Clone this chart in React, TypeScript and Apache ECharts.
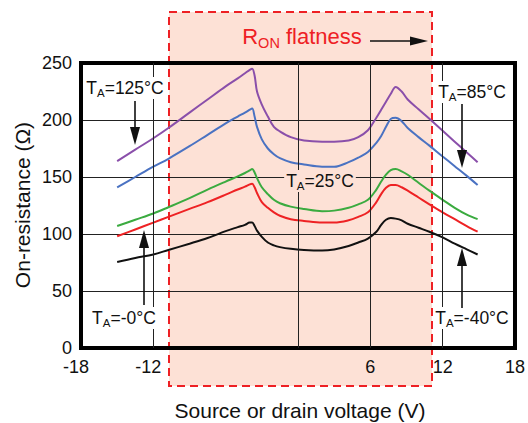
import React, { useEffect, useRef } from 'react';
import * as echarts from 'echarts';

// Source/drain voltage sample points (V)
const X = [-15, -13.5, -12, -10.75, -9, -7.5, -6, -5, -4.4, -4.0, -3.8, -3.6, -3.4, -3.0, -2.5, -2.0, -1.5, -0.6, 0.5, 2, 3, 4.2, 5, 5.8, 6.5, 6.9, 7.3, 7.7, 8.1, 8.6, 9.1, 10, 10.9, 12, 13, 14, 14.9];

// On-resistance (Ohm) per temperature
const R125 = [164, 174, 184, 193, 206.5, 218, 229.5, 236.5, 241, 244, 245, 239, 225, 213.5, 203, 194, 190, 185, 182, 181, 181, 182, 185, 191, 202, 209, 216, 223, 229, 225, 218, 209.5, 201, 190.5, 181, 171.5, 163];
const R85 = [141, 150, 159, 166, 177, 187, 197, 203, 206.5, 209, 210, 203, 194, 183, 175, 170, 166.5, 163, 161, 159, 159, 163, 167, 172, 180, 186, 194, 201, 202, 199, 193, 185, 177.5, 168, 159.5, 151, 143];
const R25 = [107, 112.5, 118, 123.5, 131.5, 139, 146, 150.5, 153.5, 155.8, 157, 154, 149, 141, 135, 130, 127, 124, 122, 120, 120.5, 123, 126, 130, 139, 146, 152, 156, 157, 155, 152, 145, 138, 130, 123, 117, 113];
const R0 = [98, 104, 110, 115, 122, 128, 134.5, 139, 141.5, 143.5, 144, 141, 136, 128, 123, 119, 116, 113, 111.5, 110, 110, 112, 115, 119, 128, 135, 140.5, 143, 143, 141, 138, 132, 126, 119, 113, 107, 102];
const RM40 = [75.5, 79, 82, 86, 91.5, 96.5, 102.5, 106, 108, 110, 110, 107, 103, 97.5, 92.5, 90, 88.5, 87, 86, 85.5, 86.5, 89.5, 92.5, 96, 102, 108, 112.5, 114, 113.5, 112, 109, 105.5, 102, 97, 91.5, 86.5, 82];

const xShownLabels = [-18, -12, 6, 12, 18];
const xGridLines = [-12, 0, 6, 12];

const FONT = '"Liberation Sans", Arial, Helvetica, sans-serif';

const pair = (ys: number[]) => X.map((x, i) => [x, ys[i]]);

function taLabel(temp: string, x: number, y: number, bg: string) {
  return {
    type: 'text',
    z: 10,
    x,
    y,
    style: {
      text: `{m|T}{s|A}{m|=${temp}°C}`,
      align: 'center',
      verticalAlign: 'middle',
      backgroundColor: bg,
      padding: [0, 2],
      rich: {
        m: { fontSize: 17.5, lineHeight: 22, fill: '#111', fontFamily: FONT },
        s: { fontSize: 11.5, lineHeight: 7, verticalAlign: 'bottom', fill: '#111', fontFamily: FONT },
      },
    },
  };
}

function vArrow(x: number, y0: number, tipY: number) {
  const dir = tipY > y0 ? 1 : -1;
  const baseY = tipY - dir * 18;
  return [
    { type: 'line', z: 10, shape: { x1: x, y1: y0, x2: x, y2: baseY }, style: { stroke: '#111', lineWidth: 1.6 } },
    { type: 'polygon', z: 10, shape: { points: [[x, tipY], [x - 5, baseY], [x + 5, baseY]] }, style: { fill: '#111' } },
  ];
}

export default function App() {
  const ref = useRef<HTMLDivElement>(null);
  useEffect(() => {
    const chart = echarts.init(ref.current!, null, { renderer: 'svg' });
    const lineSeries = (name: string, data: number[], color: string) => ({
      name,
      type: 'line',
      data: pair(data),
      smooth: 0.35,
      showSymbol: false,
      symbol: 'none',
      z: 3,
      lineStyle: { color, width: 2 },
    });
    chart.setOption({
      animation: false,
      backgroundColor: '#fff',
      grid: { left: 81, top: 63, right: 12, bottom: 75, show: true, borderColor: '#000', borderWidth: 4, backgroundColor: 'transparent', z: 5 },
      xAxis: {
        type: 'value',
        min: -18,
        max: 18,
        interval: 6,
        axisLine: { show: false },
        axisTick: { show: false },
        splitLine: { show: false },
        axisLabel: {
          margin: 10,
          fontSize: 18,
          color: '#111',
          fontFamily: FONT,
          showMinLabel: true,
          showMaxLabel: true,
          formatter: (v: number) => (xShownLabels.includes(v) ? (v < 0 ? `{neg|${v}}` : `${v}`) : ''),
          rich: { neg: { fontSize: 18, color: '#111', fontFamily: FONT, padding: [0, 10, 0, 0] } },
        },
      },
      yAxis: {
        type: 'value',
        min: 0,
        max: 250,
        interval: 50,
        axisLine: { show: false },
        axisTick: { show: false },
        splitLine: { show: true, lineStyle: { color: '#222', width: 1 } },
        axisLabel: { margin: 9, fontSize: 18, color: '#111', fontFamily: FONT },
      },
      series: [
        {
          type: 'line',
          data: [],
          z: 1,
          markLine: {
            silent: true,
            symbol: ['none', 'none'],
            label: { show: false },
            lineStyle: { color: '#222', width: 1, type: 'solid' },
            data: xGridLines.map((v) => ({ xAxis: v })),
          },
        },
        lineSeries('-40', RM40, '#111111'),
        lineSeries('0', R0, '#ee2224'),
        lineSeries('25', R25, '#3bab40'),
        lineSeries('85', R85, '#4a72c2'),
        lineSeries('125', R125, '#8a4faa'),
      ],
      graphic: [
        {
          type: 'rect',
          z: -1,
          shape: { x: 169, y: 12, width: 263, height: 374 },
          style: { fill: '#fde1d6', stroke: '#ee2024', lineWidth: 2, lineDash: [8, 5] },
        },
        {
          type: 'text',
          z: 10,
          x: 302,
          y: 36,
          style: {
            text: '{m|R}{s|ON}{m| flatness}',
            align: 'center',
            verticalAlign: 'middle',
            rich: {
              m: { fontSize: 22, lineHeight: 28, fill: '#ee2024', fontFamily: FONT },
              s: { fontSize: 14.5, lineHeight: 9, verticalAlign: 'bottom', fill: '#ee2024', fontFamily: FONT },
            },
          },
        },
        { type: 'line', z: 10, shape: { x1: 370, y1: 41, x2: 412, y2: 41 }, style: { stroke: '#111', lineWidth: 1.6 } },
        { type: 'polygon', z: 10, shape: { points: [[428, 41], [410, 36.5], [410, 45.5]] }, style: { fill: '#111' } },
        taLabel('125', 125, 88, '#fff'),
        taLabel('85', 472, 92, '#fff'),
        taLabel('25', 320, 181, '#fde1d6'),
        taLabel('-0', 124, 318, '#fff'),
        taLabel('-40', 472, 318, '#fff'),
        ...vArrow(135, 101, 145),
        ...vArrow(462, 104, 168),
        ...vArrow(144, 305, 230),
        ...vArrow(462, 308, 248),
        {
          type: 'text',
          z: 10,
          x: 22,
          y: 205,
          rotation: Math.PI / 2,
          style: { text: 'On-resistance (Ω)', fontSize: 21, fill: '#111', fontFamily: FONT, align: 'center', verticalAlign: 'middle' },
        },
        {
          type: 'text',
          z: 10,
          x: 300,
          y: 410,
          style: { text: 'Source or drain voltage (V)', fontSize: 21, fill: '#111', fontFamily: FONT, align: 'center', verticalAlign: 'middle' },
        },
      ],
    });
    return () => chart.dispose();
  }, []);
  return <div ref={ref} style={{ position: 'absolute', left: 0, top: 0, width: 528, height: 423 }} />;
}
